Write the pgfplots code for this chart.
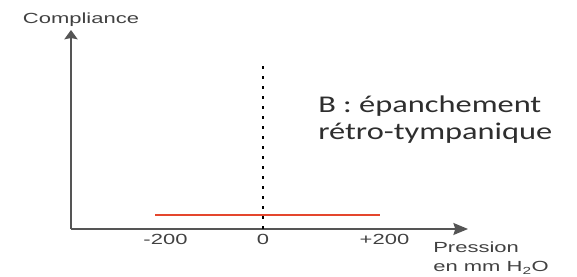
\documentclass[border=0pt]{standalone}
\usepackage{fontspec}
\usepackage{pgfplots}
\pgfplotsset{compat=1.18}
\usetikzlibrary{arrows.meta}
\setmainfont{Liberation Sans}
\newfontfamily\lab[FakeStretch=1.5]{Liberation Sans}
\newfontfamily\gill[FakeStretch=1.35]{Carlito}
\definecolor{axisgray}{RGB}{85,85,85}
\definecolor{txtgray}{RGB}{65,65,65}
\definecolor{redline}{RGB}{228,70,45}
\begin{document}
\begin{tikzpicture}[x=1pt,y=1pt]
\useasboundingbox (0,0) rectangle (432.75,207.75);
\begin{axis}[
  at={(53.25pt,36pt)}, anchor=south west,
  x=0.375pt, y=0.75pt,
  xmin=-384, xmax=410, ymin=0, ymax=199,
  axis lines=left, enlargelimits=false, clip=false,
  x axis line style={draw=axisgray, line width=1.1pt, -{Stealth[length=11pt,width=9pt,inset=1.5pt]}},
  y axis line style={draw=axisgray, line width=1.1pt, -{Stealth[length=7pt,width=10pt,inset=1pt]}},
  xtick={-195,0,243}, xticklabels={-200,0,+200},
  ytick=\empty, major tick length=0pt,
  xticklabel style={font=\lab\fontsize{11}{13}\selectfont, text=txtgray, anchor=base, inner sep=0pt, yshift=-12pt},
]
\addplot[redline, line width=2pt] coordinates {(-216,14) (234,14)};
\addplot[black, line width=2.2pt, dash pattern=on 2.2pt off 5.3pt] coordinates {(0,0) (0,165)};
\node[anchor=base, inner sep=0pt, font=\lab\fontsize{11}{13}\selectfont, text=txtgray] at (axis cs:-364,205) {Compliance};
\node[anchor=base west, inner sep=0pt, font=\gill\fontsize{18}{20}\selectfont, text=black!82] at (axis cs:110,116) {B : épanchement};
\node[anchor=base west, inner sep=0pt, font=\gill\fontsize{18}{20}\selectfont, text=black!82] at (axis cs:110,89) {rétro-tympanique};
\node[anchor=base west, inner sep=0pt, font=\lab\fontsize{11}{13}\selectfont, text=txtgray] at (axis cs:340,-24) {Pression};
\node[anchor=base west, inner sep=0pt, font=\lab\fontsize{11}{13}\selectfont, text=txtgray] at (axis cs:340,-43) {en mm H\textsubscript{2}O};
\end{axis}
\end{tikzpicture}
\end{document}
